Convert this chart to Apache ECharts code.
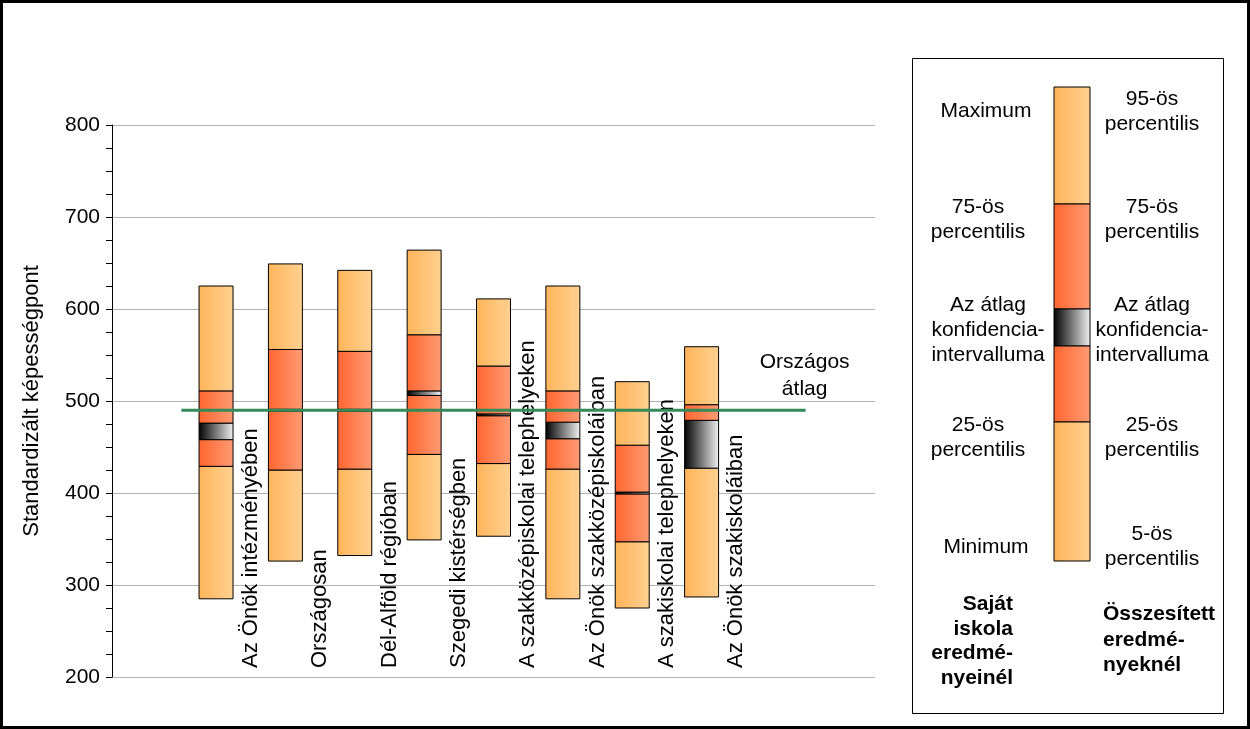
<!DOCTYPE html>
<html><head><meta charset="utf-8">
<script src="https://cdn.jsdelivr.net/npm/echarts@6/dist/echarts.min.js"></script>
<style>html,body{margin:0;padding:0;background:#fff}#c{width:1250px;height:729px}</style>
</head><body><div id="c"></div>
<script>
const categories = ['Az Önök intézményében','Országosan','Dél-Alföld régióban','Szegedi kistérségben','A szakközépiskolai telephelyeken','Az Önök szakközépiskoláiban','A szakiskolai telephelyeken','Az Önök szakiskoláiban'];
const minVals  = [285, 326, 332, 349, 353, 285, 275, 287];
const p25Vals  = [429, 425, 426, 442, 432, 426, 347, 427];
const ciLow    = [458, 489, 489, 506, 484, 459, 399, 427];
const ciHigh   = [476, 491, 491, 511, 486, 477, 401, 479];
const p75Vals  = [511, 556, 554, 572, 538, 511, 452, 496];
const maxVals  = [625, 649, 642, 664, 611, 625, 521, 559];
const nationalAvg = 490;
const avgLabel = 'Országos\nátlag';
const yTitle = 'Standardizált képességpont';

const FONT = "'Liberation Sans', Arial, sans-serif";
const G = echarts.graphic;
const lightGrad = () => new G.LinearGradient(0,0,1,0,[{offset:0,color:'#FFB45A'},{offset:1,color:'#FFD191'}]);
const orangeGrad = () => new G.LinearGradient(0,0,1,0,[{offset:0,color:'#FF6530'},{offset:1,color:'#FF9C74'}]);
const ciGrad = () => new G.LinearGradient(0,0,1,0,[{offset:0,color:'#000000'},{offset:1,color:'#F2F2F2'}]);
const fills = [lightGrad, orangeGrad, ciGrad, orangeGrad, lightGrad];

// segments data: [x, lo, hi, kind]
const segData = [];
categories.forEach((c, i) => {
  const b = [minVals[i], p25Vals[i], ciLow[i], ciHigh[i], p75Vals[i], maxVals[i]];
  for (let k = 0; k < 5; k++) segData.push([i + 1.5, b[k], b[k+1], k]);
});
const labelData = categories.map((c, i) => [i + 2, 200, c]);

const chart = echarts.init(document.getElementById('c'), null, {renderer:'canvas'});

// legend graphics
const lx = 1054, lw = 36;
const legendRects = [[87,204,0],[204,309,1],[309,346,2],[346,422,3],[422,561,4]].map(s => ({
  type:'rect', shape:{x:lx, y:s[0], width:lw, height:s[1]-s[0]},
  style:{fill:fills[[4,3,2,1,0][s[2]]](), stroke:'#000', lineWidth:1}
}));
function txt(x, y, text, opts) {
  return Object.assign({type:'text', x:x, y:y, style:Object.assign({text:text, font:'21px ' + FONT, fill:'#000', align:'center', verticalAlign:'middle', lineHeight:25}, opts||{})});
}
const legendTexts = [
  txt(986, 111, 'Maximum'),
  txt(978, 220, '75-ös\npercentilis'),
  txt(988, 330, 'Az átlag\nkonfidencia-\nintervalluma'),
  txt(978, 438, '25-ös\npercentilis'),
  txt(986, 547, 'Minimum'),
  txt(1152, 112, '95-ös\npercentilis'),
  txt(1152, 220, '75-ös\npercentilis'),
  txt(1152, 330, 'Az átlag\nkonfidencia-\nintervalluma'),
  txt(1152, 438, '25-ös\npercentilis'),
  txt(1152, 547, '5-ös\npercentilis'),
  txt(1013, 641, 'Saját\niskola\neredmé-\nnyeinél', {align:'right', font:'bold 21px ' + FONT, lineHeight:24.5}),
  txt(1103, 640, 'Összesített\neredmé-\nnyeknél', {align:'left', font:'bold 21px ' + FONT, lineHeight:25.5})
];

chart.setOption({
  animation:false,
  backgroundColor:'#fff',
  textStyle:{fontFamily:FONT},
  grid:{left:112, top:125, right:375, bottom:52},
  xAxis:{type:'value', min:0, max:11, show:false},
  yAxis:{
    type:'value', min:200, max:800, interval:100,
    axisLine:{show:true, lineStyle:{color:'#000', width:1}},
    axisTick:{show:true, length:6, lineStyle:{color:'#000'}},
    minorTick:{show:true, splitNumber:4, length:6, lineStyle:{color:'#000'}},
    splitLine:{show:true, lineStyle:{color:'#B4B4B4', width:1}},
    axisLabel:{fontSize:21, color:'#000', margin:12, fontFamily:FONT},
    name:yTitle, nameLocation:'middle', nameGap:69,
    nameTextStyle:{fontSize:22, color:'#000', fontFamily:FONT}
  },
  series:[
    {
      type:'custom', data:segData, z:2,
      renderItem:function(params, api){
        const x = api.value(0), lo = api.value(1), hi = api.value(2), k = api.value(3);
        if (hi - lo <= 0) return null;
        const p1 = api.coord([x, hi]), p0 = api.coord([x, lo]);
        const w = api.size([1, 0])[0] * 0.49;
        return {type:'rect', shape:{x:p1[0]-w/2, y:p1[1], width:w, height:p0[1]-p1[1]},
          style:{fill:fills[k](), stroke:'#000', lineWidth:1}};
      }
    },
    {
      type:'custom', data:labelData, z:3,
      renderItem:function(params, api){
        const p = api.coord([api.value(0), api.value(1)]);
        return {type:'text', x:p[0], y:p[1]-9, rotation:Math.PI/2,
          style:{text:labelData[params.dataIndex][2], font:'22px ' + FONT, fill:'#000', align:'left', verticalAlign:'middle'}};
      }
    },
    {
      type:'line', z:5, symbol:'none', silent:true,
      data:[[1, nationalAvg], [10, nationalAvg]],
      lineStyle:{color:'#358A5A', width:3},
      label:{show:false},
      endLabel:{show:true, formatter:avgLabel, align:'center', offset:[-9,-34], fontSize:21, color:'#000', lineHeight:27, fontFamily:FONT}
    }
  ],
  graphic:[
    {type:'rect', shape:{x:912.5, y:58.5, width:311, height:655}, style:{fill:'none', stroke:'#000', lineWidth:1}},
    ...legendRects,
    ...legendTexts,
    {type:'rect', shape:{x:1.5, y:1.5, width:1247, height:726}, style:{fill:'none', stroke:'#000', lineWidth:3}, z:100}
  ]
});
</script></body></html>
